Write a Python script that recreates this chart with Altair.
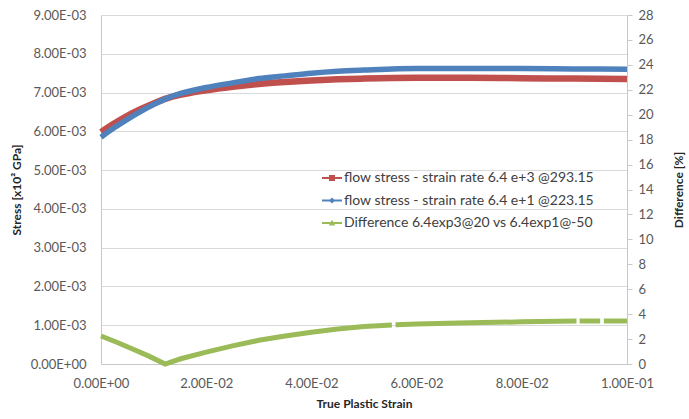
import altair as alt
import pandas as pd

# --- data -------------------------------------------------------------------
strain = [0.0, 0.0025, 0.005, 0.0075, 0.01, 0.0125, 0.015, 0.02, 0.025, 0.03,
          0.035, 0.04, 0.045, 0.05, 0.06, 0.07, 0.08, 0.09, 0.1]

# flow stress, strain rate 6.4e+3 @ 293.15 K
stress_hi_rate = [5.98e-3, 6.20e-3, 6.40e-3, 6.57e-3, 6.72e-3, 6.85e-3, 6.94e-3,
                  7.06e-3, 7.15e-3, 7.22e-3, 7.27e-3, 7.31e-3, 7.34e-3, 7.36e-3,
                  7.38e-3, 7.38e-3, 7.37e-3, 7.36e-3, 7.35e-3]

# flow stress, strain rate 6.4e+1 @ 223.15 K
stress_lo_rate = [5.85e-3, 6.09e-3, 6.31e-3, 6.51e-3, 6.69e-3, 6.85e-3, 6.97e-3,
                  7.13e-3, 7.25e-3, 7.36e-3, 7.43e-3, 7.50e-3, 7.55e-3, 7.58e-3,
                  7.62e-3, 7.62e-3, 7.62e-3, 7.61e-3, 7.60e-3]

# relative difference [%]; the segment id breaks the line where samples are missing
diff_strain = [0.0, 0.003, 0.006, 0.009, 0.0122, 0.015, 0.02, 0.025, 0.03, 0.035,
               0.04, 0.045, 0.05, 0.0553,
               0.0560, 0.06, 0.07, 0.08, 0.0904,
               0.0910, 0.0949,
               0.0956, 0.1]
diff_pct = [2.25, 1.75, 1.2, 0.65, 0.0, 0.4, 0.95, 1.45, 1.9, 2.25,
            2.55, 2.8, 3.0, 3.12,
            3.14, 3.2, 3.3, 3.38, 3.44,
            3.44, 3.45,
            3.45, 3.45]
diff_segment = [0] * 14 + [1] * 5 + [2] * 2 + [3] * 2

stress_ticks = [0.0, 0.001, 0.002, 0.003, 0.004, 0.005, 0.006, 0.007, 0.008, 0.009]
strain_ticks = [0.0, 0.02, 0.04, 0.06, 0.08, 0.1]
diff_ticks = [0, 2, 4, 6, 8, 10, 12, 14, 16, 18, 20, 22, 24, 26, 28]

series_names = [
    "flow stress - strain rate 6.4 e+3 @293.15",
    "flow stress - strain rate 6.4 e+1 @223.15",
    "Difference 6.4exp3@20 vs 6.4exp1@-50",
]
RED, BLUE, GREEN = "#C0504D", "#4F81BD", "#9BBB59"
series_colors = [RED, BLUE, GREEN]

# legend keys: a short line with the series marker on it (unit box -1..1)
legend_shapes = [
    "M-1,-0.11H1V0.11H-1Z M-0.3,-0.3H0.3V0.3H-0.3Z",
    "M-1,-0.1H1V0.1H-1Z M0,-0.3L0.3,0L0,0.3L-0.3,0Z",
    "M-1,-0.1H1V0.1H-1Z M0,-0.32L0.32,0.26L-0.32,0.26Z",
]

hi_df = pd.DataFrame({"strain": strain, "stress": stress_hi_rate})
lo_df = pd.DataFrame({"strain": strain, "stress": stress_lo_rate})
diff_df = pd.DataFrame({"strain": diff_strain, "diff": diff_pct, "seg": diff_segment})
key_df = pd.DataFrame({"strain": [0.0] * 3, "stress": [0.0] * 3, "series": series_names})

# --- styling ----------------------------------------------------------------
FONT = "Lato"
LABEL_COLOR = "#595959"
TITLE_COLOR = "#262626"
GRID_COLOR = "#d9d9d9"
DOMAIN_COLOR = "#c8c8c8"

sci_labels = "replace(replace(format(datum.value, '.2e'), 'e-', 'E-0'), 'e+', 'E+0')"

x_enc = alt.X(
    "strain:Q",
    scale=alt.Scale(domain=[0, 0.1], nice=False),
    axis=alt.Axis(
        title="True Plastic Strain",
        values=strain_ticks,
        labelExpr=sci_labels,
        labelFlush=False,
        grid=False, ticks=False,
        labelPadding=13, titlePadding=8,
    ),
)

stress_y = alt.Y(
    "stress:Q",
    scale=alt.Scale(domain=[0, 0.009], nice=False),
    axis=alt.Axis(
        title="Stress [x10² GPa]",
        orient="left",
        values=stress_ticks,
        labelExpr=sci_labels,
        grid=True, gridColor=GRID_COLOR,
        ticks=False, labelPadding=15, titlePadding=7,
    ),
)

hi_line = alt.Chart(hi_df).mark_line(strokeWidth=6.5, interpolate="monotone").encode(
    x=x_enc, y=stress_y, color=alt.value(RED))
lo_line = alt.Chart(lo_df).mark_line(strokeWidth=5.5, interpolate="monotone").encode(
    x=x_enc, y=stress_y, color=alt.value(BLUE))

key_legend = alt.Legend(
    title=None, orient="none", legendX=221, legendY=153,
    padding=0, symbolSize=400, symbolStrokeWidth=0, symbolOpacity=1,
    labelOffset=2, rowPadding=5.5,
    labelFont=FONT, labelFontSize=14, labelColor="#404040",
    labelLimit=400,
)

# legend-only layer: no rows survive the filter, the scales still feed the legend
legend_layer = alt.Chart(key_df).mark_point(filled=True, opacity=1, strokeWidth=0).encode(
    x=x_enc,
    y=stress_y,
    color=alt.Color("series:N",
                    scale=alt.Scale(domain=series_names, range=series_colors),
                    legend=key_legend),
    shape=alt.Shape("series:N",
                    scale=alt.Scale(domain=series_names, range=legend_shapes),
                    legend=key_legend),
).transform_filter("false")

diff_line = alt.Chart(diff_df).mark_line(strokeWidth=5).encode(
    x=x_enc,
    y=alt.Y(
        "diff:Q",
        scale=alt.Scale(domain=[0, 28], nice=False),
        axis=alt.Axis(
            title="Difference [%]",
            orient="right",
            values=diff_ticks,
            grid=False,
            ticks=True, tickSize=5, tickColor=DOMAIN_COLOR,
            labelPadding=6, titlePadding=20,
            titleAngle=270, titleBaseline="top",
        ),
    ),
    color=alt.value(GREEN),
    detail="seg:N",
)

stress_layers = alt.layer(hi_line, lo_line, legend_layer)

chart = (
    alt.layer(stress_layers, diff_line)
    .resolve_scale(y="independent")
    .properties(
        width=526,
        height=349,
        autosize=alt.AutoSizeParams(type="none"),
        padding={"left": 101, "top": 15, "right": 62, "bottom": 55},
        background="white",
    )
    .configure_view(stroke=None)
    .configure_axis(
        labelFont=FONT, labelFontSize=13, labelColor=LABEL_COLOR,
        titleFont=FONT, titleFontSize=12, titleFontWeight="bold", titleColor=TITLE_COLOR,
        domainColor=DOMAIN_COLOR, domainWidth=1,
    )
)

chart.save("out.html", embed_options={"renderer": "svg", "actions": False})
